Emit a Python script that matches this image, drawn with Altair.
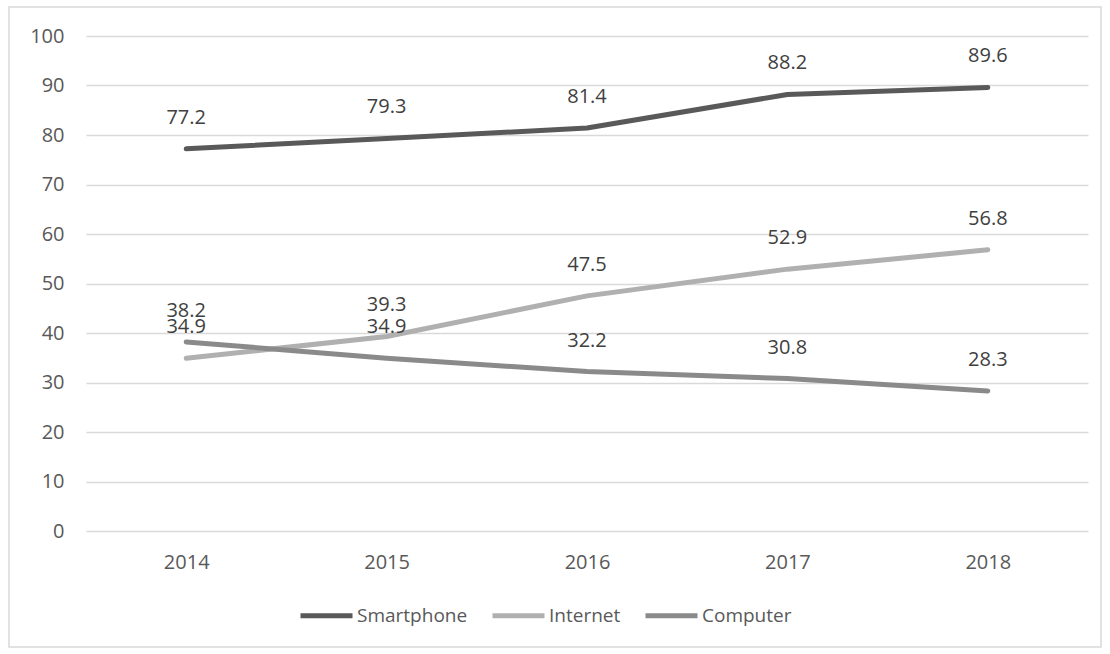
import altair as alt
import pandas as pd

years = ["2014", "2015", "2016", "2017", "2018"]
smartphone = [77.2, 79.3, 81.4, 88.2, 89.6]
internet = [34.9, 39.3, 47.5, 52.9, 56.8]
computer = [38.2, 34.9, 32.2, 30.8, 28.3]
series_names = ["Smartphone", "Internet", "Computer"]
series_colors = ["#595959", "#b0b0b0", "#8a8a8a"]

rows = []
for name, vals in zip(series_names, [smartphone, internet, computer]):
    for y, v in zip(years, vals):
        rows.append({"Year": y, "Series": name, "Value": v})
df = pd.DataFrame(rows)

FONT = "Open Sans"
FS = 20

x = alt.X("Year:O", sort=years, scale=alt.Scale(type="point", padding=0.5),
          axis=alt.Axis(title=None, labelAngle=0, labelColor="#595959", labelFont=FONT,
                        labelFontSize=FS, ticks=False, domain=False, labelPadding=21, grid=False))
y = alt.Y("Value:Q", scale=alt.Scale(domain=[0, 100], nice=False, zero=True),
          axis=alt.Axis(title=None, values=list(range(0, 101, 10)), labelColor="#595959",
                        labelFont=FONT, labelFontSize=FS, ticks=False, domain=False,
                        labelPadding=22, gridColor="#d9d9d9", gridWidth=1.5))
color = alt.Color("Series:N", sort=series_names,
                  scale=alt.Scale(domain=series_names, range=series_colors),
                  legend=alt.Legend(title=None, orient="none", direction="horizontal",
                                    legendX=212, legendY=551,
                                    symbolType="stroke", symbolSize=2704, symbolStrokeWidth=5,
                                    labelFont=FONT, labelFontSize=19, labelColor="#595959",
                                    labelOffset=2, columnPadding=14))

border = alt.Chart(pd.DataFrame({"a": [0]})).mark_rect(
    fill=None, stroke="#d9d9d9", strokeWidth=1.5
).encode(x=alt.value(-77), x2=alt.value(1015), y=alt.value(-29), y2=alt.value(611))

lines = alt.Chart(df).mark_line(strokeWidth=5, strokeCap="round", strokeJoin="round").encode(
    x=x, y=y, color=color, order=alt.Order("Year:O")
)
labels = alt.Chart(df).mark_text(dy=-31, font=FONT, fontSize=FS, color="#404040",
                                 baseline="middle").encode(
    x=alt.X("Year:O", sort=years), y="Value:Q", text=alt.Text("Value:Q", format=".1f")
)

chart = alt.layer(border, lines, labels).properties(
    width=1002, height=495,
    autosize=alt.AutoSizeParams(type="none"),
    padding={"left": 86, "top": 36, "right": 22, "bottom": 123},
    background="white",
).configure_view(stroke=None)

chart.save("out.html", embed_options={"renderer": "svg", "actions": False})
